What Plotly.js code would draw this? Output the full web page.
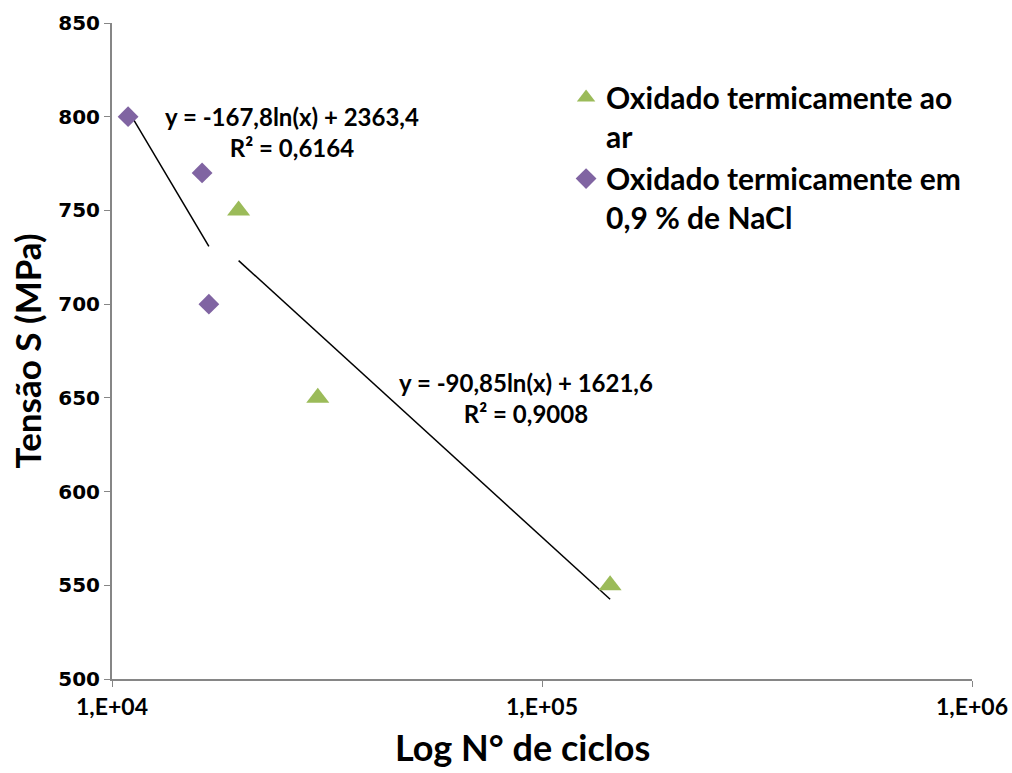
<!DOCTYPE html>
<html>
<head>
<meta charset="utf-8">
<script src="https://cdn.plot.ly/plotly-3.0.1.min.js"></script>
<style>body{margin:0;background:#fff}#chart{width:1012px;height:773px}</style>
</head>
<body>
<div id="chart"></div>
<script>
// Series: Oxidado termicamente ao ar
const cyclesAr = [19700, 30100, 144000];
const stressAr = [750, 650, 550];
// Series: Oxidado termicamente em 0,9 % de NaCl
const cyclesNaCl = [10900, 16200, 16800];
const stressNaCl = [800, 770, 700];
// Logarithmic trendline coefficients [a, b] for y = a ln(x) + b
const trendAr = [-90.85, 1621.6];
const trendNaCl = [-167.8, 2363.4];
const xTickVals = [1e4, 1e5, 1e6];
const xTickText = ['1,E+04', '1,E+05', '1,E+06'];
const yTickVals = [500, 550, 600, 650, 700, 750, 800, 850];
const yTickText = ['500', '550', '600', '650', '700', '750', '800', '850'];
const eqAr = ['y = -90,85ln(x) + 1621,6', 'R² = 0,9008'];
const eqNaCl = ['y = -167,8ln(x) + 2363,4', 'R² = 0,6164'];
const xTitle = 'Log N° de ciclos';
const yTitle = 'Tensão S (MPa)';

function trend(xs, c) {
  const x0 = Math.min(...xs), x1 = Math.max(...xs);
  return {x: [x0, x1], y: [c[0]*Math.log(x0)+c[1], c[0]*Math.log(x1)+c[1]]};
}
const tA = trend(cyclesAr, trendAr);
const tN = trend(cyclesNaCl, trendNaCl);
const b = s => '<b>' + s + '</b>';

const data = [
  {x: tN.x, y: tN.y, mode: 'lines', line: {color: '#000', width: 1.5}, showlegend: false, hoverinfo: 'skip'},
  {x: tA.x, y: tA.y, mode: 'lines', line: {color: '#000', width: 1.5}, showlegend: false, hoverinfo: 'skip'},
  {x: cyclesAr, y: stressAr, mode: 'markers', name: b('Oxidado termicamente ao') + '<br>' + b('ar'),
   marker: {symbol: 'triangle-up', size: 20, color: '#9BBB59'}},
  {x: cyclesNaCl, y: stressNaCl, mode: 'markers', name: b('Oxidado termicamente em') + '<br>' + b('0,9 % de NaCl'),
   marker: {symbol: 'diamond', size: 16, color: '#8064A2'}}
];

const fontB = 'Lato, Carlito, Calibri, sans-serif';
const layout = {
  width: 1012, height: 773,
  margin: {l: 112, r: 40, t: 23, b: 94},
  paper_bgcolor: '#fff', plot_bgcolor: '#fff',
  font: {family: fontB, color: '#000'},
  xaxis: {
    type: 'log', range: [4, 6], tickvals: xTickVals, ticktext: xTickText.map(b),
    showgrid: false, zeroline: false, showline: true, linecolor: '#868686', linewidth: 2,
    ticks: 'outside', ticklen: 6, tickcolor: '#868686', tickwidth: 1,
    tickfont: {family: fontB, size: 23, color: '#000'}
  },
  yaxis: {
    range: [500, 850], tickvals: yTickVals, ticktext: yTickText.map(b),
    showgrid: false, zeroline: false, showline: true, linecolor: '#868686', linewidth: 2,
    ticks: 'outside', ticklen: 6, tickcolor: '#868686', tickwidth: 1,
    tickfont: {family: 'DejaVu Sans, Verdana, sans-serif', size: 20, color: '#000'},
    title: {text: b(yTitle), font: {family: fontB, size: 35, color: '#000'}, standoff: 6}
  },
  legend: {
    x: 0.528, y: 0.926, xanchor: 'left', yanchor: 'top',
    font: {family: fontB, size: 30, color: '#000'},
    bgcolor: 'rgba(0,0,0,0)', valign: 'top', itemsizing: 'trace'
  },
  annotations: [
    {x: 4.419, y: 792, xref: 'x', yref: 'y', text: b(eqNaCl[0]) + '<br>' + b(eqNaCl[1]),
     showarrow: false, yanchor: 'middle', font: {family: fontB, size: 24, color: '#000'}, align: 'center'},
    {x: 4.963, y: 650, xref: 'x', yref: 'y', text: b(eqAr[0]) + '<br>' + b(eqAr[1]),
     showarrow: false, yanchor: 'middle', font: {family: fontB, size: 24, color: '#000'}, align: 'center'},
    {x: 0.477, y: -0.104, xref: 'paper', yref: 'paper', text: b(xTitle),
     showarrow: false, xanchor: 'center', yanchor: 'middle', font: {family: fontB, size: 36, color: '#000'}}
  ]
};
Plotly.newPlot('chart', data, layout, {displayModeBar: false, staticPlot: true});
</script>
</body>
</html>
